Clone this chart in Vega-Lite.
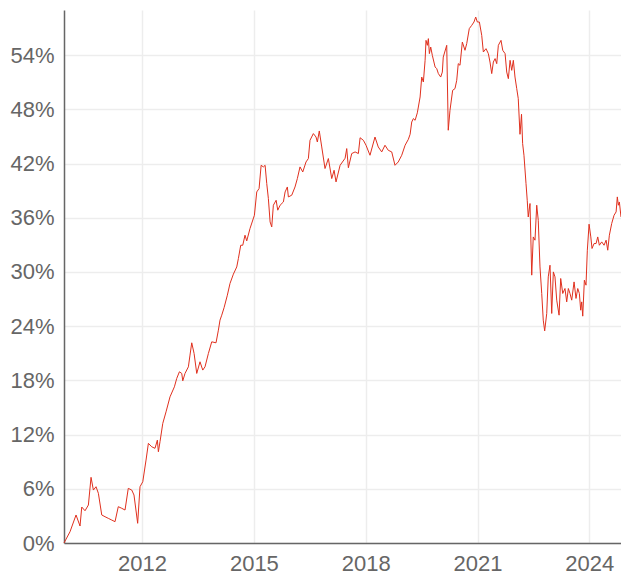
{
  "$schema": "https://vega.github.io/schema/vega-lite/v6.json",
  "width": 557,
  "height": 533,
  "autosize": {"type": "none"},
  "padding": {"left": 64, "top": 10, "right": 0, "bottom": 36},
  "background": "white",
  "view": {"stroke": null},
  "config": {
    "font": "Liberation Sans",
    "axis": {
      "labelFont": "Liberation Sans",
      "labelFontSize": 22,
      "labelColor": "#666666",
      "domainColor": "#666666",
      "domainWidth": 1.5,
      "gridColor": "#ededed",
      "gridWidth": 1.5,
      "ticks": false,
      "title": null
    }
  },
  "data": {
    "values": [
      {"date": "2009-11-27", "v": 0},
      {"date": "2010-01-25", "v": 0.0125},
      {"date": "2010-03-25", "v": 0.0310},
      {"date": "2010-05-03", "v": 0.0188},
      {"date": "2010-05-20", "v": 0.0398},
      {"date": "2010-06-21", "v": 0.0357},
      {"date": "2010-07-24", "v": 0.0420},
      {"date": "2010-08-19", "v": 0.0727},
      {"date": "2010-09-11", "v": 0.0586},
      {"date": "2010-10-07", "v": 0.0623},
      {"date": "2010-10-30", "v": 0.0550},
      {"date": "2010-12-02", "v": 0.0310},
      {"date": "2011-01-03", "v": 0.0291},
      {"date": "2011-02-04", "v": 0.0273},
      {"date": "2011-03-10", "v": 0.0254},
      {"date": "2011-04-11", "v": 0.0236},
      {"date": "2011-05-13", "v": 0.0402},
      {"date": "2011-06-16", "v": 0.0384},
      {"date": "2011-07-18", "v": 0.0365},
      {"date": "2011-08-19", "v": 0.0605},
      {"date": "2011-09-22", "v": 0.0586},
      {"date": "2011-10-14", "v": 0.0531},
      {"date": "2011-11-19", "v": 0.0218},
      {"date": "2011-12-12", "v": 0.0623},
      {"date": "2012-01-08", "v": 0.0678},
      {"date": "2012-02-09", "v": 0.0918},
      {"date": "2012-03-03", "v": 0.1103},
      {"date": "2012-04-05", "v": 0.1065},
      {"date": "2012-05-07", "v": 0.1048},
      {"date": "2012-05-30", "v": 0.1139},
      {"date": "2012-06-09", "v": 0.1010},
      {"date": "2012-06-25", "v": 0.1121},
      {"date": "2012-07-22", "v": 0.1324},
      {"date": "2012-08-23", "v": 0.1452},
      {"date": "2012-10-01", "v": 0.1618},
      {"date": "2012-11-13", "v": 0.1729},
      {"date": "2012-12-06", "v": 0.1822},
      {"date": "2013-01-01", "v": 0.1895},
      {"date": "2013-01-24", "v": 0.1877},
      {"date": "2013-02-03", "v": 0.1795},
      {"date": "2013-02-25", "v": 0.1877},
      {"date": "2013-03-30", "v": 0.1950},
      {"date": "2013-04-15", "v": 0.2080},
      {"date": "2013-05-02", "v": 0.2216},
      {"date": "2013-05-25", "v": 0.2098},
      {"date": "2013-06-20", "v": 0.1877},
      {"date": "2013-07-22", "v": 0.2006},
      {"date": "2013-08-18", "v": 0.1914},
      {"date": "2013-09-09", "v": 0.1950},
      {"date": "2013-10-12", "v": 0.2098},
      {"date": "2013-11-14", "v": 0.2227},
      {"date": "2013-12-26", "v": 0.2216},
      {"date": "2014-01-18", "v": 0.2356},
      {"date": "2014-02-03", "v": 0.2467},
      {"date": "2014-02-20", "v": 0.2522},
      {"date": "2014-03-15", "v": 0.2605},
      {"date": "2014-04-16", "v": 0.2743},
      {"date": "2014-05-12", "v": 0.2873},
      {"date": "2014-06-14", "v": 0.2976},
      {"date": "2014-07-17", "v": 0.3056},
      {"date": "2014-08-02", "v": 0.3149},
      {"date": "2014-08-25", "v": 0.3296},
      {"date": "2014-09-14", "v": 0.3296},
      {"date": "2014-10-06", "v": 0.3407},
      {"date": "2014-10-23", "v": 0.3344},
      {"date": "2014-11-24", "v": 0.3481},
      {"date": "2015-01-06", "v": 0.3628},
      {"date": "2015-01-29", "v": 0.3886},
      {"date": "2015-02-21", "v": 0.3924},
      {"date": "2015-03-13", "v": 0.4181},
      {"date": "2015-04-04", "v": 0.4163},
      {"date": "2015-04-21", "v": 0.4181},
      {"date": "2015-05-07", "v": 0.3979},
      {"date": "2015-05-23", "v": 0.3813},
      {"date": "2015-06-09", "v": 0.3554},
      {"date": "2015-06-25", "v": 0.3499},
      {"date": "2015-07-11", "v": 0.3739},
      {"date": "2015-08-07", "v": 0.3794},
      {"date": "2015-08-23", "v": 0.3684},
      {"date": "2015-09-15", "v": 0.3739},
      {"date": "2015-10-17", "v": 0.3775},
      {"date": "2015-11-03", "v": 0.3886},
      {"date": "2015-11-25", "v": 0.3941},
      {"date": "2015-12-05", "v": 0.3831},
      {"date": "2016-01-07", "v": 0.3850},
      {"date": "2016-02-08", "v": 0.3941},
      {"date": "2016-03-02", "v": 0.4034},
      {"date": "2016-03-28", "v": 0.4163},
      {"date": "2016-04-24", "v": 0.4107},
      {"date": "2016-05-26", "v": 0.4218},
      {"date": "2016-06-18", "v": 0.4256},
      {"date": "2016-07-04", "v": 0.4458},
      {"date": "2016-08-06", "v": 0.4532},
      {"date": "2016-09-01", "v": 0.4494},
      {"date": "2016-09-14", "v": 0.4439},
      {"date": "2016-10-03", "v": 0.4561},
      {"date": "2016-10-27", "v": 0.4384},
      {"date": "2016-11-28", "v": 0.4145},
      {"date": "2016-12-31", "v": 0.4256},
      {"date": "2017-02-02", "v": 0.4034},
      {"date": "2017-02-25", "v": 0.4126},
      {"date": "2017-03-16", "v": 0.3997},
      {"date": "2017-04-25", "v": 0.4181},
      {"date": "2017-06-13", "v": 0.4259},
      {"date": "2017-06-29", "v": 0.4366},
      {"date": "2017-07-15", "v": 0.4154},
      {"date": "2017-08-17", "v": 0.4311},
      {"date": "2017-09-19", "v": 0.4329},
      {"date": "2017-10-21", "v": 0.4311},
      {"date": "2017-11-07", "v": 0.4486},
      {"date": "2017-12-09", "v": 0.4458},
      {"date": "2018-01-04", "v": 0.4403},
      {"date": "2018-02-12", "v": 0.4292},
      {"date": "2018-04-02", "v": 0.4494},
      {"date": "2018-05-04", "v": 0.4384},
      {"date": "2018-06-07", "v": 0.4329},
      {"date": "2018-07-09", "v": 0.4403},
      {"date": "2018-08-10", "v": 0.4347},
      {"date": "2018-09-13", "v": 0.4329},
      {"date": "2018-10-15", "v": 0.4181},
      {"date": "2018-11-16", "v": 0.4218},
      {"date": "2018-12-20", "v": 0.4292},
      {"date": "2019-01-22", "v": 0.4403},
      {"date": "2019-02-23", "v": 0.4469},
      {"date": "2019-03-12", "v": 0.4524},
      {"date": "2019-03-28", "v": 0.4660},
      {"date": "2019-04-13", "v": 0.4698},
      {"date": "2019-04-30", "v": 0.4679},
      {"date": "2019-05-22", "v": 0.4762},
      {"date": "2019-06-18", "v": 0.4937},
      {"date": "2019-07-04", "v": 0.5158},
      {"date": "2019-07-20", "v": 0.5103},
      {"date": "2019-08-06", "v": 0.5343},
      {"date": "2019-08-15", "v": 0.5564},
      {"date": "2019-08-28", "v": 0.5509},
      {"date": "2019-09-07", "v": 0.5583},
      {"date": "2019-09-17", "v": 0.5417},
      {"date": "2019-09-30", "v": 0.5490},
      {"date": "2019-10-16", "v": 0.5398},
      {"date": "2019-11-12", "v": 0.5269},
      {"date": "2019-11-28", "v": 0.5251},
      {"date": "2019-12-14", "v": 0.5196},
      {"date": "2020-01-06", "v": 0.5158},
      {"date": "2020-01-22", "v": 0.5213},
      {"date": "2020-01-31", "v": 0.5379},
      {"date": "2020-03-05", "v": 0.5509},
      {"date": "2020-03-20", "v": 0.4569},
      {"date": "2020-04-06", "v": 0.4790},
      {"date": "2020-05-02", "v": 0.5011},
      {"date": "2020-05-25", "v": 0.5030},
      {"date": "2020-06-11", "v": 0.5122},
      {"date": "2020-06-26", "v": 0.5306},
      {"date": "2020-07-13", "v": 0.5288},
      {"date": "2020-08-05", "v": 0.5545},
      {"date": "2020-08-31", "v": 0.5454},
      {"date": "2020-09-17", "v": 0.5528},
      {"date": "2020-10-12", "v": 0.5694},
      {"date": "2020-11-05", "v": 0.5730},
      {"date": "2020-11-27", "v": 0.5767},
      {"date": "2020-12-14", "v": 0.5822},
      {"date": "2020-12-30", "v": 0.5767},
      {"date": "2021-01-19", "v": 0.5767},
      {"date": "2021-02-11", "v": 0.5619},
      {"date": "2021-02-27", "v": 0.5435},
      {"date": "2021-03-25", "v": 0.5472},
      {"date": "2021-04-17", "v": 0.5417},
      {"date": "2021-05-03", "v": 0.5324},
      {"date": "2021-05-20", "v": 0.5196},
      {"date": "2021-06-05", "v": 0.5324},
      {"date": "2021-06-22", "v": 0.5362},
      {"date": "2021-07-08", "v": 0.5306},
      {"date": "2021-07-24", "v": 0.5509},
      {"date": "2021-08-19", "v": 0.5564},
      {"date": "2021-09-05", "v": 0.5454},
      {"date": "2021-09-28", "v": 0.5417},
      {"date": "2021-10-14", "v": 0.5213},
      {"date": "2021-10-30", "v": 0.5140},
      {"date": "2021-11-16", "v": 0.5343},
      {"date": "2021-12-02", "v": 0.5232},
      {"date": "2021-12-18", "v": 0.5343},
      {"date": "2022-01-03", "v": 0.5158},
      {"date": "2022-01-20", "v": 0.5030},
      {"date": "2022-02-04", "v": 0.4919},
      {"date": "2022-02-21", "v": 0.4524},
      {"date": "2022-03-08", "v": 0.4746},
      {"date": "2022-03-19", "v": 0.4421},
      {"date": "2022-04-01", "v": 0.4292},
      {"date": "2022-04-21", "v": 0.3979},
      {"date": "2022-05-03", "v": 0.3794},
      {"date": "2022-05-13", "v": 0.3609},
      {"date": "2022-05-30", "v": 0.3758},
      {"date": "2022-06-16", "v": 0.2965},
      {"date": "2022-07-01", "v": 0.3388},
      {"date": "2022-07-18", "v": 0.3352},
      {"date": "2022-08-04", "v": 0.3739},
      {"date": "2022-08-19", "v": 0.3573},
      {"date": "2022-09-05", "v": 0.3056},
      {"date": "2022-09-22", "v": 0.2762},
      {"date": "2022-10-07", "v": 0.2467},
      {"date": "2022-10-21", "v": 0.2348},
      {"date": "2022-11-10", "v": 0.2541},
      {"date": "2022-11-25", "v": 0.2946},
      {"date": "2022-12-12", "v": 0.3075},
      {"date": "2022-12-29", "v": 0.2541},
      {"date": "2023-01-14", "v": 0.3001},
      {"date": "2023-01-30", "v": 0.2946},
      {"date": "2023-02-16", "v": 0.2688},
      {"date": "2023-03-11", "v": 0.2522},
      {"date": "2023-03-27", "v": 0.2928},
      {"date": "2023-04-16", "v": 0.2762},
      {"date": "2023-05-08", "v": 0.2817},
      {"date": "2023-05-25", "v": 0.2669},
      {"date": "2023-06-10", "v": 0.2817},
      {"date": "2023-06-26", "v": 0.2762},
      {"date": "2023-07-13", "v": 0.2688},
      {"date": "2023-08-05", "v": 0.2890},
      {"date": "2023-08-24", "v": 0.2707},
      {"date": "2023-09-10", "v": 0.2817},
      {"date": "2023-09-26", "v": 0.2762},
      {"date": "2023-10-09", "v": 0.2577},
      {"date": "2023-10-19", "v": 0.2669},
      {"date": "2023-10-29", "v": 0.2511},
      {"date": "2023-11-14", "v": 0.2909},
      {"date": "2023-11-30", "v": 0.2854},
      {"date": "2023-12-13", "v": 0.3241},
      {"date": "2023-12-30", "v": 0.3529},
      {"date": "2024-01-16", "v": 0.3388},
      {"date": "2024-01-28", "v": 0.3260},
      {"date": "2024-02-17", "v": 0.3315},
      {"date": "2024-03-08", "v": 0.3315},
      {"date": "2024-03-24", "v": 0.3388},
      {"date": "2024-04-09", "v": 0.3296},
      {"date": "2024-05-02", "v": 0.3333},
      {"date": "2024-05-25", "v": 0.3296},
      {"date": "2024-06-14", "v": 0.3352},
      {"date": "2024-06-30", "v": 0.3241},
      {"date": "2024-07-16", "v": 0.3407},
      {"date": "2024-08-08", "v": 0.3537},
      {"date": "2024-08-31", "v": 0.3628},
      {"date": "2024-09-20", "v": 0.3665},
      {"date": "2024-10-02", "v": 0.3831},
      {"date": "2024-10-12", "v": 0.3739},
      {"date": "2024-10-22", "v": 0.3775},
      {"date": "2024-11-07", "v": 0.3609}
    ]
  },
  "mark": {"type": "line", "color": "#e0301e", "strokeWidth": 1, "interpolate": "linear"},
  "encoding": {
    "x": {
      "field": "date",
      "type": "temporal",
      "scale": {
        "type": "utc",
        "domain": [
          {"year": 2009, "month": 11, "date": 27, "utc": true},
          {"year": 2024, "month": 11, "date": 7, "utc": true}
        ]
      },
      "axis": {
        "values": [
          {"year": 2012, "month": 1, "date": 1, "utc": true},
          {"year": 2015, "month": 1, "date": 1, "utc": true},
          {"year": 2018, "month": 1, "date": 1, "utc": true},
          {"year": 2021, "month": 1, "date": 1, "utc": true},
          {"year": 2024, "month": 1, "date": 1, "utc": true}
        ],
        "format": "%Y",
        "labelPadding": 10,
        "grid": true
      }
    },
    "y": {
      "field": "v",
      "type": "quantitative",
      "scale": {"domain": [0, 0.59], "nice": false, "zero": true},
      "axis": {
        "values": [0, 0.06, 0.12, 0.18, 0.24, 0.3, 0.36, 0.42, 0.48, 0.54],
        "format": ".0%",
        "labelPadding": 10,
        "grid": true
      }
    }
  }
}
